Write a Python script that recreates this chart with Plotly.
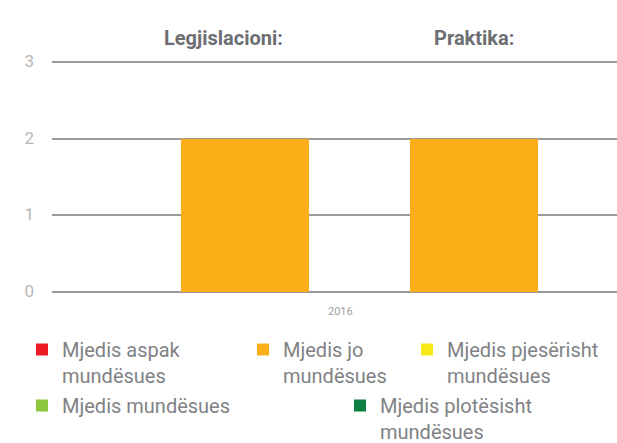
import plotly.graph_objects as go

categories = ["Legjislacioni:", "Praktika:"]
values = [2, 2]
empty_values = [0, 0]
year_label = "2016"
legend_names = ["Mjedis aspak<br>mundësues", "Mjedis jo<br>mundësues", "Mjedis pjesërisht<br>mundësues",
                "Mjedis mundësues", "Mjedis plotësisht<br>mundësues"]
legend_colors = ["#ED1C24", "#FBAE17", "#F7E917", "#8DC63F", "#0C8040"]
y_ticks = [0, 1, 2, 3]

FONT = "Roboto"
fig = go.Figure()

legend_ids = ["legend", "legend2", "legend3", "legend4", "legend5"]
for i, (n, c) in enumerate(zip(legend_names, legend_colors)):
    if i == 1:
        continue
    fig.add_trace(go.Bar(x=categories, y=empty_values, name=n, marker=dict(color=c, line=dict(width=0)),
                         width=0.56, legend=legend_ids[i], showlegend=True, hoverinfo="skip"))

# actual bars (orange = "Mjedis jo mundësues")
fig.add_trace(go.Bar(x=categories, y=values, marker=dict(color=legend_colors[1], line=dict(width=0)),
                     width=0.56, name=legend_names[1], legend="legend2", showlegend=True))

leg_common = dict(xref="container", yref="container", xanchor="left", yanchor="top",
                  bgcolor="rgba(0,0,0,0)", valign="top",
                  font=dict(family=FONT, size=20, color="#808285"), tracegroupgap=0)
W, H = 617, 443
def lx(px): return px / W
def ly(py): return 1 - py / H

fig.update_layout(
    width=W, height=H, plot_bgcolor="white", paper_bgcolor="white",
    margin=dict(l=52, r=0, t=60, b=149, autoexpand=False),
    barmode="overlay", bargap=0,
    xaxis=dict(type="category", range=[-0.843, 1.624], showticklabels=False, showgrid=False,
               zeroline=False, showline=False, ticks=""),
    yaxis=dict(range=[-0.03, 3.03], tickvals=y_ticks, showgrid=True, gridcolor="#9a9a9a", gridwidth=2,
               zeroline=False, showline=False, ticks="", ticklabelstandoff=17, ticklabelshift=-1,
               tickfont=dict(family=FONT, size=17, color="#b8b8b8")),
    legend=dict(x=lx(22), y=ly(330), **leg_common),
    legend2=dict(x=lx(243), y=ly(330), **leg_common),
    legend3=dict(x=lx(407), y=ly(330), **leg_common),
    legend4=dict(x=lx(22), y=ly(386), **leg_common),
    legend5=dict(x=lx(340), y=ly(386), **leg_common),
    showlegend=True,
)

fig.add_annotation(x=categories[0], y=1, xref="x", yref="paper", yanchor="middle", yshift=22, xshift=-22,
                   text="<b>" + categories[0] + "</b>", showarrow=False,
                   font=dict(family=FONT, size=20, color="#6d6e71"))
fig.add_annotation(x=categories[1], y=1, xref="x", yref="paper", yanchor="middle", yshift=22,
                   text="<b>" + categories[1] + "</b>", showarrow=False,
                   font=dict(family=FONT, size=20, color="#6d6e71"))
fig.add_annotation(x=0.51, y=0, xref="paper", yref="paper", yanchor="top", yshift=-9,
                   text=year_label, showarrow=False,
                   font=dict(family=FONT, size=11, color="#a0a0a0"))

fig.write_html("out.html", config={"displayModeBar": False},
               post_script="document.body.style.margin='0';")
